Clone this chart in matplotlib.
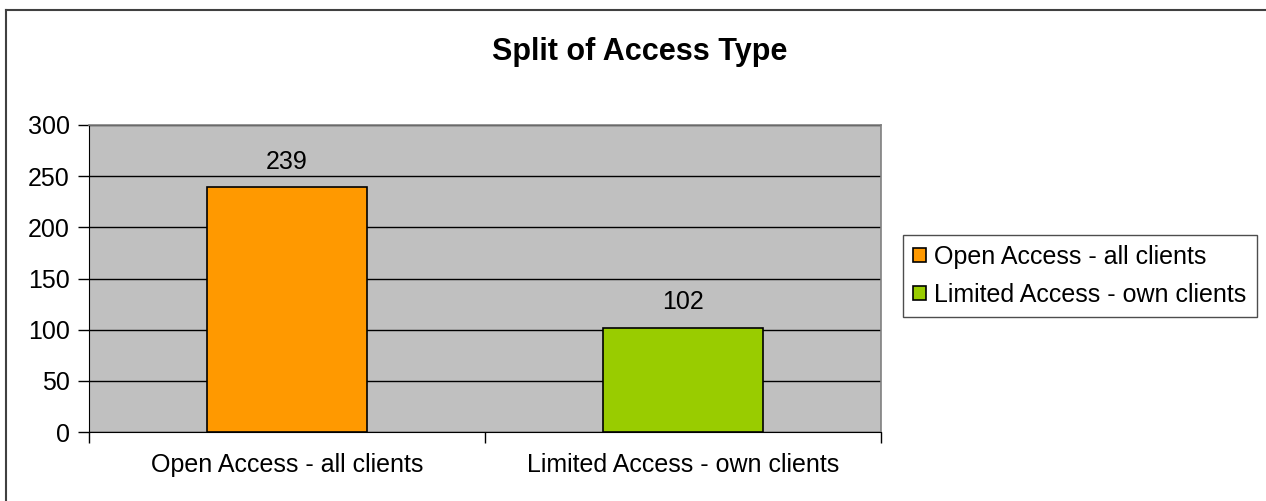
import matplotlib
matplotlib.use("Agg")
import matplotlib.pyplot as plt
from matplotlib.lines import Line2D
from matplotlib.patches import Patch

plt.rcParams['font.family'] = ['Liberation Sans', 'DejaVu Sans']

categories = ["Open Access - all clients", "Limited Access - own clients"]
values = [239, 102]
colors = ["#FF9900", "#99CC00"]
yticks = [0, 50, 100, 150, 200, 250, 300]
title = "Split of Access Type"

fig = plt.figure(figsize=(12.66, 5.01), dpi=100)
ax = fig.add_axes([89 / 1266, 1 - 432 / 501, 792 / 1266, 307 / 501])
ax.set_facecolor("#C0C0C0")

x = list(range(len(categories)))
bars = ax.bar(x, values, width=0.405, color=colors, edgecolor="black",
              linewidth=1.2, zorder=3)
for xi, v in zip(x, values):
    ax.text(xi, v + 13, str(v), ha="center", va="bottom", fontsize=18, zorder=4)

ax.set_xlim(-0.5, len(categories) - 0.5)
ax.set_ylim(0, 300)
ax.set_yticks(yticks)
ax.set_yticklabels([str(t) for t in yticks], fontsize=18)
ax.yaxis.grid(True, color="black", linewidth=1.0, zorder=1)
ax.set_axisbelow(True)

# category labels centred, tick marks on the category boundaries
ax.set_xticks(x)
ax.set_xticklabels(categories, fontsize=18)
ax.tick_params(axis="x", length=0, pad=15)
ax.set_xticks([-0.5, 0.5, 1.5], minor=True)
ax.tick_params(axis="x", which="minor", length=8, width=1, color="black")
ax.tick_params(axis="y", length=8, width=1, color="black", pad=6)

for side in ["top", "right"]:
    ax.spines[side].set_color("#808080")
    ax.spines[side].set_linewidth(1.2)
ax.spines["left"].set_color("black")
ax.spines["bottom"].set_color("black")

fig.text(640 / 1266, 1 - 52 / 501, title, ha="center", va="center",
         fontsize=22, fontweight="bold")

handles = [Patch(facecolor=c, edgecolor="black", linewidth=1.2) for c in colors]
leg = fig.legend(handles, categories, loc="center left",
                 bbox_to_anchor=(903 / 1266, 1 - 276 / 501),
                 fontsize=18, frameon=True, fancybox=False, handlelength=0.5,
                 handleheight=0.5, handletextpad=0.35, borderpad=0.4,
                 labelspacing=0.55, borderaxespad=0)
leg.get_frame().set_edgecolor("#202020")
leg.get_frame().set_linewidth(1.0)

# chart frame (left and top edges)
fig.add_artist(Line2D([6 / 1266, 6 / 1266], [0, 1 - 10 / 501], color="#404040",
                      linewidth=1.5, transform=fig.transFigure))
fig.add_artist(Line2D([6 / 1266, 1], [1 - 10 / 501, 1 - 10 / 501], color="#404040",
                      linewidth=1.5, transform=fig.transFigure))

fig.savefig("out.png", dpi=100)
